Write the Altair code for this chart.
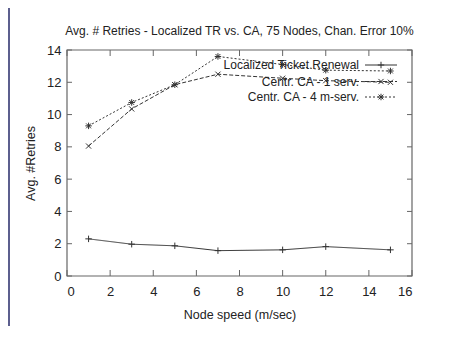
import altair as alt
import pandas as pd

# ---- data ----
speeds = [1, 3, 5, 7, 10, 12, 15]
ltr = [2.3, 1.97, 1.87, 1.57, 1.62, 1.82, 1.62]
ca1 = [8.05, 10.35, 11.85, 12.5, 12.25, 12.1, 12.0]
ca4 = [9.3, 10.75, 11.85, 13.6, 13.1, 12.75, 12.7]
series_names = ["Localized Ticket Renewal", "Centr. CA - 1 serv.", "Centr. CA - 4 m-serv."]
x_ticks = [0, 2, 4, 6, 8, 10, 12, 14, 16]
y_ticks = [0, 2, 4, 6, 8, 10, 12, 14]

chart_title = "Avg. # Retries - Localized TR vs. CA, 75 Nodes, Chan. Error 10%"
x_title = "Node speed (m/sec)"
y_title = "Avg. #Retries"

FONT = "Liberation Sans, Arial, sans-serif"
INK = "#333333"
FRAME = "#666666"
SLIDE = "#5c5f8e"

W, H = 345, 226
PAD = {"left": 59, "top": 42, "right": 46, "bottom": 50}

rows = []
for name, vals in zip(series_names, [ltr, ca1, ca4]):
    for s, v in zip(speeds, vals):
        rows.append({"series": name, "speed": s, "value": v})
df = pd.DataFrame(rows)

PLUS = "M-1,0L1,0M0,-1L0,1"
CROSS = "M-0.8,-0.8L0.8,0.8M-0.8,0.8L0.8,-0.8"
STAR = "M-1,0L1,0M0,-1L0,1M-0.75,-0.75L0.75,0.75M-0.75,0.75L0.75,-0.75"
shapes = [PLUS, CROSS, STAR]
dashes = [[1, 0], [4, 2], [2, 2]]

xs = alt.Scale(domain=[0, 16], nice=False)
ys = alt.Scale(domain=[0, 14], nice=False)

x_axis = alt.Axis(
    values=x_ticks, ticks=False, domain=False, grid=False, labelOverlap=False,
    labelFont=FONT, labelFontSize=13, labelColor="#222", labelPadding=9,
    title=x_title, titleFont=FONT, titleFontSize=12.5, titleFontWeight="normal",
    titleColor="#222", titlePadding=10, zindex=1)
y_axis = alt.Axis(
    values=y_ticks, ticks=False, domain=False, grid=False, labelOverlap=False,
    labelFont=FONT, labelFontSize=13, labelColor="#222", labelPadding=6,
    title=y_title, titleFont=FONT, titleFontSize=12.5, titleFontWeight="normal",
    titleColor="#222", titlePadding=9, zindex=1)

one = pd.DataFrame({"a": [0]})

panel = alt.Chart(one).mark_rect(color="white").encode(
    x=alt.value(-57), x2=alt.value(W + PAD["right"]),
    y=alt.value(-PAD["top"]), y2=alt.value(H + PAD["bottom"])
)

title_mark = alt.Chart(pd.DataFrame({"t": [chart_title]})).mark_text(
    align="center", baseline="alphabetic", font=FONT, fontSize=12, color="#222"
).encode(text="t:N", x=alt.value(W / 2), y=alt.value(-15))

base = alt.Chart(df)
lines = base.mark_line(color=INK, strokeWidth=1).encode(
    x=alt.X("speed:Q", scale=xs, axis=x_axis),
    y=alt.Y("value:Q", scale=ys, axis=y_axis),
    strokeDash=alt.StrokeDash("series:N", scale=alt.Scale(domain=series_names, range=dashes), legend=None),
    detail="series:N",
)
points = base.mark_point(filled=False, color=INK, strokeWidth=1, size=42, opacity=1).encode(
    x=alt.X("speed:Q", scale=xs, axis=x_axis),
    y=alt.Y("value:Q", scale=ys, axis=y_axis),
    shape=alt.Shape("series:N", scale=alt.Scale(domain=series_names, range=shapes), legend=None),
)

xt = pd.DataFrame({"speed": x_ticks})
yt = pd.DataFrame({"value": y_ticks})
tick_b = alt.Chart(xt).mark_rule(color=FRAME, strokeWidth=1).encode(
    x=alt.X("speed:Q", scale=xs, axis=x_axis), y=alt.value(H), y2=alt.value(H - 6))
tick_t = alt.Chart(xt).mark_rule(color=FRAME, strokeWidth=1).encode(
    x=alt.X("speed:Q", scale=xs, axis=x_axis), y=alt.value(0), y2=alt.value(6))
tick_l = alt.Chart(yt).mark_rule(color=FRAME, strokeWidth=1).encode(
    y=alt.Y("value:Q", scale=ys, axis=y_axis), x=alt.value(0), x2=alt.value(5))
tick_r = alt.Chart(yt).mark_rule(color=FRAME, strokeWidth=1).encode(
    y=alt.Y("value:Q", scale=ys, axis=y_axis), x=alt.value(W), x2=alt.value(W - 5))

frame = alt.Chart(one).mark_rect(filled=False, stroke=FRAME, strokeWidth=1.2).encode(
    x=alt.value(0), x2=alt.value(W), y=alt.value(0), y2=alt.value(H))

legend_layers = []
row_y = [15, 31.5, 47]
for i, name in enumerate(series_names):
    ld = pd.DataFrame({"name": [name]})
    legend_layers.append(alt.Chart(ld).mark_text(
        align="right", baseline="middle", font=FONT, fontSize=12, color="#222").encode(
        text="name:N", x=alt.value(292), y=alt.value(row_y[i])))
    legend_layers.append(alt.Chart(ld).mark_rule(
        color=INK, strokeWidth=1, strokeDash=dashes[i]).encode(
        x=alt.value(298), x2=alt.value(330), y=alt.value(row_y[i])))
    legend_layers.append(alt.Chart(ld).mark_point(
        filled=False, color=INK, strokeWidth=1, size=42, shape=shapes[i], opacity=1).encode(
        x=alt.value(314), y=alt.value(row_y[i])))

chart = alt.layer(
    panel, title_mark, tick_b, tick_t, tick_l, tick_r, frame, lines, points, *legend_layers
).properties(
    width=W, height=H,
    background=SLIDE,
    padding=PAD,
    autosize=alt.AutoSizeParams(type="none"),
).configure_view(stroke=None)

chart.save("out.html", embed_options={"renderer": "svg", "actions": False})
